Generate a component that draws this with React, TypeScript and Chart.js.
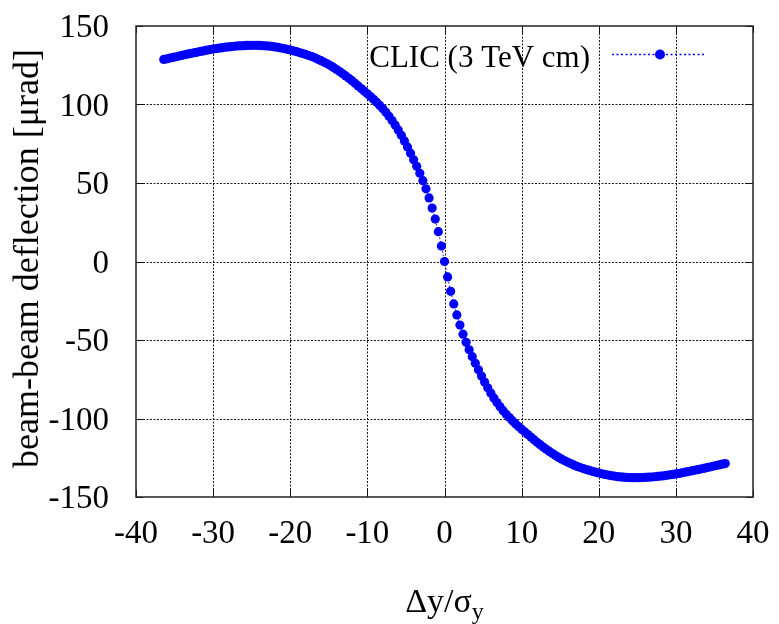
import { useEffect, useRef } from "react";
import { Chart, registerables } from "chart.js";

Chart.register(...registerables);

// ---- data ----
const xValues = [
  -36.4, -36.0, -35.6, -35.2, -34.8, -34.4, -34.0, -33.6, -33.2, -32.8,
  -32.4, -32.0, -31.6, -31.2, -30.8, -30.4, -30.0, -29.6, -29.2, -28.8,
  -28.4, -28.0, -27.6, -27.2, -26.8, -26.4, -26.0, -25.6, -25.2, -24.8,
  -24.4, -24.0, -23.6, -23.2, -22.8, -22.4, -22.0, -21.6, -21.2, -20.8,
  -20.4, -20.0, -19.6, -19.2, -18.8, -18.4, -18.0, -17.6, -17.2, -16.8,
  -16.4, -16.0, -15.6, -15.2, -14.8, -14.4, -14.0, -13.6, -13.2, -12.8,
  -12.4, -12.0, -11.6, -11.2, -10.8, -10.4, -10.0, -9.6, -9.2, -8.8,
  -8.4, -8.0, -7.6, -7.2, -6.8, -6.4, -6.0, -5.6, -5.2, -4.8,
  -4.4, -4.0, -3.6, -3.2, -2.8, -2.4, -2.0, -1.6, -1.2, -0.8,
  -0.4, 0.0,
  0.4, 0.8, 1.2, 1.6, 2.0, 2.4, 2.8, 3.2, 3.6, 4.0,
  4.4, 4.8, 5.2, 5.6, 6.0, 6.4, 6.8, 7.2, 7.6, 8.0,
  8.4, 8.8, 9.2, 9.6, 10.0, 10.4, 10.8, 11.2, 11.6, 12.0,
  12.4, 12.8, 13.2, 13.6, 14.0, 14.4, 14.8, 15.2, 15.6, 16.0,
  16.4, 16.8, 17.2, 17.6, 18.0, 18.4, 18.8, 19.2, 19.6, 20.0,
  20.4, 20.8, 21.2, 21.6, 22.0, 22.4, 22.8, 23.2, 23.6, 24.0,
  24.4, 24.8, 25.2, 25.6, 26.0, 26.4, 26.8, 27.2, 27.6, 28.0,
  28.4, 28.8, 29.2, 29.6, 30.0, 30.4, 30.8, 31.2, 31.6, 32.0,
  32.4, 32.8, 33.2, 33.6, 34.0, 34.4, 34.8, 35.2, 35.6, 36.0,
  36.4,
];

const deflection = [
  128.7, 129.1, 129.6, 130.0, 130.4, 130.9, 131.3, 131.8, 132.2, 132.6,
  133.0, 133.4, 133.8, 134.2, 134.6, 135.0, 135.3, 135.6, 135.9, 136.2,
  136.5, 136.7, 136.9, 137.1, 137.3, 137.4, 137.5, 137.6, 137.7, 137.7,
  137.7, 137.6, 137.5, 137.4, 137.2, 137.0, 136.7, 136.4, 136.0, 135.6,
  135.2, 134.7, 134.2, 133.7, 133.1, 132.5, 131.9, 131.2, 130.5, 129.7,
  128.8, 127.9, 126.9, 125.9, 124.8, 123.6, 122.3, 121.0, 119.6, 118.2,
  116.7, 115.2, 113.5, 111.8, 110.2, 108.5, 106.8, 105.1, 103.3, 101.4,
  99.4, 97.3, 95.0, 92.5, 89.8, 86.9, 83.8, 80.4, 76.8, 73.0,
  69.0, 64.8, 60.6, 56.2, 51.5, 46.3, 40.5, 34.0, 27.0, 19.0,
  9.8, 0.0,
  -9.8, -19.0, -27.0, -34.0, -40.5, -46.3, -51.5, -56.2, -60.6, -64.8,
  -69.0, -73.0, -76.8, -80.4, -83.8, -86.9, -89.8, -92.5, -95.0, -97.3,
  -99.4, -101.4, -103.3, -105.1, -106.8, -108.5, -110.2, -111.8, -113.5, -115.2,
  -116.7, -118.2, -119.6, -121.0, -122.3, -123.6, -124.8, -125.9, -126.9, -127.9,
  -128.8, -129.7, -130.5, -131.2, -131.9, -132.5, -133.1, -133.7, -134.2, -134.7,
  -135.2, -135.6, -136.0, -136.4, -136.7, -137.0, -137.2, -137.4, -137.5, -137.6,
  -137.7, -137.7, -137.7, -137.6, -137.5, -137.4, -137.3, -137.1, -136.9, -136.7,
  -136.5, -136.2, -135.9, -135.6, -135.3, -135.0, -134.6, -134.2, -133.8, -133.4,
  -133.0, -132.6, -132.2, -131.8, -131.3, -130.9, -130.4, -130.0, -129.6, -129.1,
  -128.7,
];

const xTicks = [-40, -30, -20, -10, 0, 10, 20, 30, 40];
const xTickLabels = ["-40", "-30", "-20", "-10", "0", "10", "20", "30", "40"];
const yTicks = [-150, -100, -50, 0, 50, 100, 150];
const yTickLabels = ["-150", "-100", "-50", "0", "50", "100", "150"];

const seriesName = "CLIC (3 TeV cm)";
const xTitleMain = "Δy/σ";
const xTitleSub = "y";
const yTitle = "beam-beam deflection [μrad]";

const SERIF = '"Liberation Serif", "DejaVu Serif", serif';
const BLUE = "#0000ff";

const decorPlugin = {
  id: "gnuplotDecor",
  beforeDatasetsDraw(chart: any) {
    const { ctx, chartArea } = chart;
    const { left, right, top, bottom } = chartArea;
    const xs = chart.scales.x;
    const ys = chart.scales.y;
    ctx.save();
    ctx.strokeStyle = "rgba(0,0,0,0.9)";
    ctx.lineWidth = 1;
    ctx.setLineDash([2, 1.5]);
    xTicks.forEach((v) => {
      if (v === xTicks[0] || v === xTicks[xTicks.length - 1]) return;
      const px = Math.round(xs.getPixelForValue(v)) + 0.5;
      ctx.beginPath();
      ctx.moveTo(px, top);
      ctx.lineTo(px, bottom);
      ctx.stroke();
    });
    yTicks.forEach((v) => {
      if (v === yTicks[0] || v === yTicks[yTicks.length - 1]) return;
      const py = Math.round(ys.getPixelForValue(v)) + 0.5;
      ctx.beginPath();
      ctx.moveTo(left, py);
      ctx.lineTo(right, py);
      ctx.stroke();
    });
    ctx.restore();
  },
  afterDatasetsDraw(chart: any) {
    const { ctx, chartArea } = chart;
    const { left, right, top, bottom } = chartArea;
    const xs = chart.scales.x;
    const ys = chart.scales.y;
    ctx.save();
    // inner tick marks
    ctx.strokeStyle = "#111";
    ctx.lineWidth = 1;
    ctx.setLineDash([]);
    const tl = 7;
    xTicks.forEach((v) => {
      const px = Math.round(xs.getPixelForValue(v)) + 0.5;
      ctx.beginPath();
      ctx.moveTo(px, bottom);
      ctx.lineTo(px, bottom - tl);
      ctx.moveTo(px, top);
      ctx.lineTo(px, top + tl);
      ctx.stroke();
    });
    yTicks.forEach((v) => {
      const py = Math.round(ys.getPixelForValue(v)) + 0.5;
      ctx.beginPath();
      ctx.moveTo(left, py);
      ctx.lineTo(left + tl, py);
      ctx.moveTo(right, py);
      ctx.lineTo(right - tl, py);
      ctx.stroke();
    });
    // frame
    ctx.strokeStyle = "#222";
    ctx.lineWidth = 1.5;
    ctx.strokeRect(left, top, right - left, bottom - top);

    // tick labels
    ctx.fillStyle = "#000";
    ctx.font = `33px ${SERIF}`;
    ctx.textBaseline = "alphabetic";
    ctx.textAlign = "right";
    yTicks.forEach((v, i) => {
      const py = ys.getPixelForValue(v);
      ctx.fillText(yTickLabels[i], left - 27, py + 11);
    });
    ctx.textAlign = "center";
    xTicks.forEach((v, i) => {
      const px = xs.getPixelForValue(v);
      ctx.fillText(xTickLabels[i], px, bottom + 46);
    });

    // x title with subscript
    const mainFont = `34px ${SERIF}`;
    const subFont = `24px ${SERIF}`;
    ctx.font = mainFont;
    const wMain = ctx.measureText(xTitleMain).width;
    ctx.font = subFont;
    const wSub = ctx.measureText(xTitleSub).width;
    const cx = (left + right) / 2;
    const startX = cx - (wMain + wSub) / 2;
    ctx.textAlign = "left";
    ctx.font = mainFont;
    ctx.fillText(xTitleMain, startX, 612);
    ctx.font = subFont;
    ctx.fillText(xTitleSub, startX + wMain, 619);

    // y title rotated
    ctx.save();
    ctx.translate(38, (top + bottom) / 2 - 3);
    ctx.rotate(-Math.PI / 2);
    ctx.textAlign = "center";
    ctx.font = `36px ${SERIF}`;
    ctx.fillText(yTitle, 0, 0);
    ctx.restore();

    // legend
    ctx.font = `31px ${SERIF}`;
    ctx.textAlign = "right";
    ctx.fillText(seriesName, 590, 67);
    ctx.strokeStyle = BLUE;
    ctx.lineWidth = 1.5;
    ctx.setLineDash([2, 2.5]);
    ctx.beginPath();
    ctx.moveTo(612, 54.5);
    ctx.lineTo(706, 54.5);
    ctx.stroke();
    ctx.setLineDash([]);
    ctx.fillStyle = BLUE;
    ctx.beginPath();
    ctx.arc(660, 54.5, 5, 0, Math.PI * 2);
    ctx.fill();
    ctx.restore();
  },
};

export default function App() {
  const canvasRef = useRef<HTMLCanvasElement | null>(null);

  useEffect(() => {
    document.body.style.margin = "0";
    const canvas = canvasRef.current;
    if (!canvas) return;
    const chart = new Chart(canvas, {
      type: "scatter",
      data: {
        datasets: [
          {
            label: seriesName,
            data: xValues.map((x, i) => ({ x, y: deflection[i] })),
            showLine: true,
            borderColor: BLUE,
            borderWidth: 1,
            borderDash: [1.5, 2],
            pointRadius: 4.6,
            pointBackgroundColor: BLUE,
            pointBorderColor: BLUE,
            pointBorderWidth: 0,
          },
        ],
      },
      options: {
        animation: false,
        responsive: false,
        devicePixelRatio: 1,
        layout: { padding: { left: 136, top: 26, right: 26, bottom: 127 } },
        plugins: { legend: { display: false }, tooltip: { enabled: false } },
        scales: {
          x: { type: "linear", min: -40, max: 40, display: false },
          y: { type: "linear", min: -150, max: 150, display: false },
        },
      },
      plugins: [decorPlugin],
    });
    return () => chart.destroy();
  }, []);

  return (
    <div style={{ width: 779, height: 624 }}>
      <canvas ref={canvasRef} width={779} height={624} style={{ display: "block" }} />
    </div>
  );
}
